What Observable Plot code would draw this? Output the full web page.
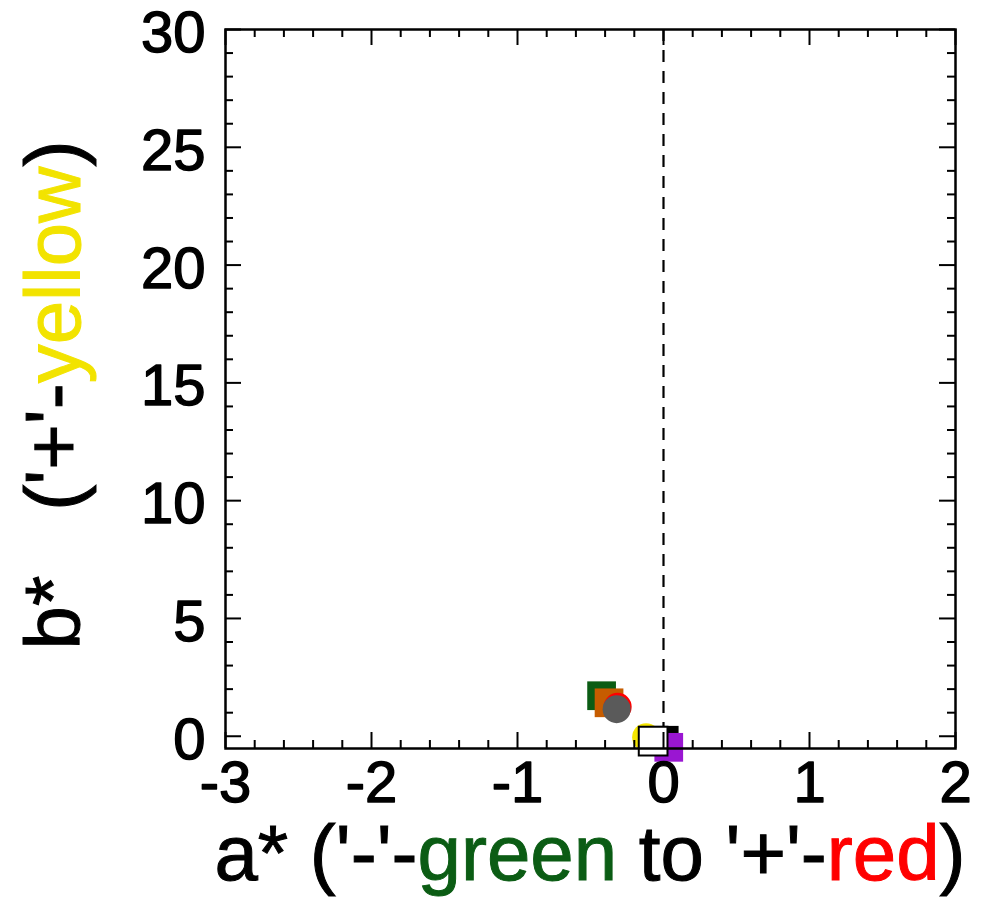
<!DOCTYPE html>
<html>
<head>
<meta charset="utf-8">
<script src="https://cdn.jsdelivr.net/npm/d3@7"></script>
<script src="https://cdn.jsdelivr.net/npm/@observablehq/plot@0.6"></script>
<style>
  html, body { margin: 0; padding: 0; background: #fff; }
  svg { display: block; }
</style>
</head>
<body>
<div id="chart"></div>
<script>
// ---- data ----
const sampleNames = ["green", "orange", "red", "grey", "yellow", "black", "purple", "white"];
const aStar = [-0.424, -0.373, -0.314, -0.321, -0.119, 0.005, 0.036, -0.071];
const bStar = [1.72, 1.42, 1.25, 1.15, -0.04, -0.17, -0.47, -0.21];
const markerSymbol = ["square", "square", "circle", "circle", "circle", "square", "square", "square"];
const markerFill = ["#0b5c14", "#c65c00", "#ff0000", "#5a5a5a", "#f5e600", "#000000", "#9a16d2", "#ffffff"];
const markerStroke = ["none", "none", "none", "none", "none", "none", "none", "#000000"];

const xMajorTicks = [-3, -2, -1, 0, 1, 2];
const yMajorTicks = [0, 5, 10, 15, 20, 25, 30];
const xDomain = [-3, 2];
const yDomain = [-0.52, 30];

const points = sampleNames.map((name, i) => ({
  name, a: aStar[i], b: bStar[i], symbol: markerSymbol[i], fill: markerFill[i], stroke: markerStroke[i]
}));

const xMinorTicks = d3.range(-3, 2.0001, 0.2).map(v => Math.round(v * 10) / 10).filter(v => !xMajorTicks.includes(v));
const yMinorTicks = d3.range(0, 30.0001, 1).filter(v => !yMajorTicks.includes(v));

// ---- layout ----
const W = 989, H = 898;
const mL = 225, mR = 34, mT = 29, mB = 150;
const fw = W - mL - mR, fh = H - mT - mB;
const font = "'Liberation Sans', Arial, Helvetica, sans-serif";
const major = 16, minor = 8, tickW = 2;

const svg = Plot.plot({
  width: W,
  height: H,
  marginLeft: mL, marginRight: mR, marginTop: mT, marginBottom: mB,
  style: { fontFamily: font, background: "#fff", overflow: "visible" },
  x: { domain: xDomain, axis: null },
  y: { domain: yDomain, axis: null },
  r: { type: "identity" },
  symbol: { type: "identity" },
  marks: [
    // dashed zero line
    Plot.ruleX([0], { stroke: "#000", strokeWidth: 2.2, strokeDasharray: "12,9" }),
    // points (kept in data order)
    Plot.dot(points, {
      x: "a", y: "b",
      symbol: "symbol",
      r: d => d.symbol === "square" ? 16.2 : 14,
      fill: "fill",
      stroke: "stroke",
      strokeWidth: 2,
      sort: null
    }),
    // inward ticks: bottom
    Plot.tickX(xMajorTicks, { x: d => d, stroke: "#000", strokeWidth: tickW, insetTop: fh - major }),
    Plot.tickX(xMinorTicks, { x: d => d, stroke: "#000", strokeWidth: tickW, insetTop: fh - minor }),
    // top
    Plot.tickX(xMajorTicks, { x: d => d, stroke: "#000", strokeWidth: tickW, insetBottom: fh - major }),
    Plot.tickX(xMinorTicks, { x: d => d, stroke: "#000", strokeWidth: tickW, insetBottom: fh - minor }),
    // left
    Plot.tickY(yMajorTicks, { y: d => d, stroke: "#000", strokeWidth: tickW, insetRight: fw - major }),
    Plot.tickY(yMinorTicks, { y: d => d, stroke: "#000", strokeWidth: tickW, insetRight: fw - minor }),
    // right
    Plot.tickY(yMajorTicks, { y: d => d, stroke: "#000", strokeWidth: tickW, insetLeft: fw - major }),
    Plot.tickY(yMinorTicks, { y: d => d, stroke: "#000", strokeWidth: tickW, insetLeft: fw - minor }),
    // tick labels
    Plot.text(xMajorTicks, {
      x: d => d, text: d => String(d), frameAnchor: "bottom", lineAnchor: "top", dy: 12,
      fontSize: 58, fill: "#000", stroke: "#000", strokeWidth: 1.4
    }),
    Plot.text(yMajorTicks, {
      y: d => d, text: d => String(d), frameAnchor: "left", textAnchor: "end", dx: -20, dy: 4,
      fontSize: 58, fill: "#000", stroke: "#000", strokeWidth: 1.4
    }),
    Plot.frame({ stroke: "#000", strokeWidth: 2.5 })
  ]
});

const s = d3.select(svg);

// ---- axis titles with coloured words ----
const xt = s.append("text")
  .attr("x", mL + fw / 2)
  .attr("y", 880)
  .attr("text-anchor", "middle")
  .attr("font-size", 78)
  .attr("font-family", font)
  .attr("fill", "#000")
  .attr("stroke", "#000")
  .attr("stroke-width", 1)
  .style("white-space", "pre");
xt.append("tspan").text("a* ('-'-");
xt.append("tspan").attr("fill", "#0b5c14").attr("stroke", "#0b5c14").text("green");
xt.append("tspan").text(" to '+'-");
xt.append("tspan").attr("fill", "#ff0000").attr("stroke", "#ff0000").text("red");
xt.append("tspan").text(")");

const yt = s.append("text")
  .attr("transform", `translate(80,${395}) rotate(-90)`)
  .attr("text-anchor", "middle")
  .attr("font-size", 78)
  .attr("font-family", font)
  .attr("fill", "#000")
  .attr("stroke", "#000")
  .attr("stroke-width", 1)
  .style("white-space", "pre");
yt.append("tspan").text("b*   ('+'-");
yt.append("tspan").attr("fill", "#f2e300").attr("stroke", "#f2e300").text("yellow");
yt.append("tspan").text(")");

document.getElementById("chart").appendChild(svg);
</script>
</body>
</html>
